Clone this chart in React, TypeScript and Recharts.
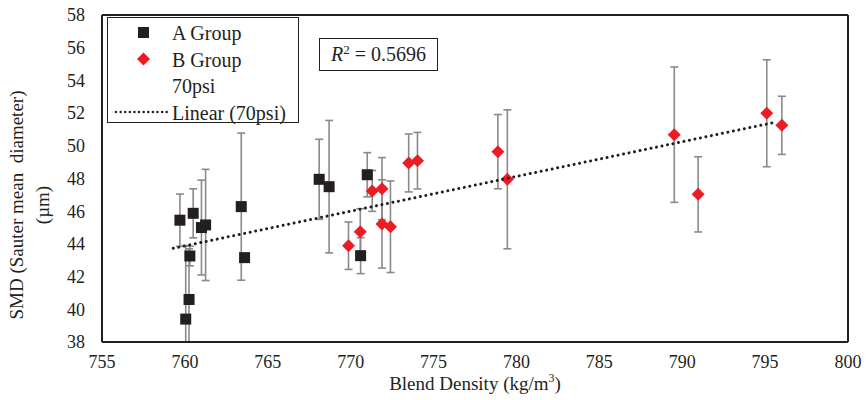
import React from 'react';
import {
  ScatterChart, Scatter, XAxis, YAxis, ErrorBar, ReferenceLine,
} from 'recharts';

// A Group (black squares)
const aDensity = [759.7, 760.5, 760.3, 760.25, 760.05, 761.0, 761.25, 763.4, 763.6, 768.1, 768.7, 771.0, 770.6];
const aSmd = [45.45, 45.87, 43.26, 40.6, 39.4, 45.0, 45.16, 46.28, 43.16, 47.95, 47.5, 48.23, 43.28];
// [below, above] as visible in the plot (bars running off the bottom are cut at the axis)
const aErr = [[1.6, 1.6], [1.5, 1.5], [0.6, 0.6], [2.6, 3.1], [1.4, 4.5], [2.9, 2.9], [3.4, 3.4], [4.5, 4.5], [0, 0], [2.45, 2.45], [4.05, 4.05], [1.35, 1.35], [1.1, 1.1]];

// B Group (red diamonds)
const bDensity = [769.87, 770.58, 771.3, 771.89, 771.89, 772.4, 773.5, 774.03, 778.88, 779.45, 789.52, 790.96, 795.1, 796.01];
const bSmd = [43.89, 44.75, 47.24, 47.38, 45.22, 45.05, 48.95, 49.09, 49.64, 47.95, 50.68, 47.03, 51.99, 51.25];
const bErr = [1.45, 1.4, 1.25, 1.9, 2.7, 2.8, 1.77, 1.73, 2.27, 4.25, 4.14, 2.3, 3.27, 1.78];

// Linear (70psi) trend endpoints
const trendDensity = [759.3, 795.7];
const trendSmd = [43.73, 51.46];

const xTicks = [755, 760, 765, 770, 775, 780, 785, 790, 795, 800];
const yTicks = [38, 40, 42, 44, 46, 48, 50, 52, 54, 56, 58];

const rSquared = '0.5696';

const toRows = (xs: number[], ys: number[], errs?: any[]) =>
  xs.map((x, i) => ({ x, y: ys[i], err: errs ? errs[i] : 0 }));

const aData = toRows(aDensity, aSmd, aErr);
const bData = toRows(bDensity, bSmd, bErr);
const trendData = toRows(trendDensity, trendSmd);

const INK = '#231f20';
const RED = '#ed1c24';
const FONT = '"Liberation Serif", "Times New Roman", serif';

const Square = (props: any) => {
  const { cx, cy } = props;
  return <rect x={cx - 5.5} y={cy - 5.5} width={11} height={11} fill={INK} />;
};

const Diamond = (props: any) => {
  const { cx, cy } = props;
  const r = 6.5;
  return <path d={`M${cx},${cy - r}L${cx + r},${cy}L${cx},${cy + r}L${cx - r},${cy}Z`} fill={RED} />;
};

const NoDot = () => <g />;

const tickStyle = { fill: INK, fontSize: 18, fontFamily: FONT };

export default function App() {
  return (
    <div style={{ position: 'absolute', left: 0, top: 0, width: 866, height: 400, fontFamily: FONT, color: INK, background: '#fff' }}>
      <ScatterChart width={866} height={400} margin={{ top: 15, right: 18, bottom: 28, left: 0 }}>
        <XAxis
          type="number"
          dataKey="x"
          domain={[755, 800]}
          ticks={xTicks}
          allowDataOverflow
          tickLine={false}
          tickMargin={7}
          axisLine={{ stroke: INK, strokeWidth: 2 }}
          tick={tickStyle}
        />
        <YAxis
          type="number"
          dataKey="y"
          domain={[38, 58]}
          ticks={yTicks}
          allowDataOverflow
          width={102}
          tickLine={false}
          tickMargin={11}
          axisLine={{ stroke: INK, strokeWidth: 2 }}
          tick={tickStyle}
        />
        <ReferenceLine y={58} stroke={INK} strokeWidth={2} />
        <ReferenceLine x={800} stroke={INK} strokeWidth={2} />
        <Scatter data={aData} shape={Square} isAnimationActive={false}>
          <ErrorBar dataKey="err" direction="y" width={4} stroke="#8a8a8a" strokeWidth={1.6} />
        </Scatter>
        <Scatter data={bData} shape={Diamond} isAnimationActive={false}>
          <ErrorBar dataKey="err" direction="y" width={4} stroke="#8a8a8a" strokeWidth={1.6} />
        </Scatter>
        <Scatter
          data={trendData}
          shape={NoDot}
          line={{ stroke: INK, strokeWidth: 3, strokeDasharray: '0.01 5.6', strokeLinecap: 'round' }}
          isAnimationActive={false}
        />
      </ScatterChart>

      {/* legend */}
      <div style={{ position: 'absolute', left: 107, top: 17, width: 192, height: 106, border: `1.5px solid ${INK}`, fontSize: 20, boxSizing: 'border-box', background: '#fff' }}>
        <svg width={60} height={106} style={{ position: 'absolute', left: 0, top: 0 }}>
          <rect x={30} y={9} width={11} height={11} fill={INK} />
          <path d="M35.5,34.5L42,41L35.5,47.5L29,41Z" fill={RED} />
          <line x1={8} y1={94} x2={62} y2={94} stroke={INK} strokeWidth={2.5} strokeDasharray="0.01 4.6" strokeLinecap="round" />
        </svg>
        <div style={{ position: 'absolute', left: 64, top: 2, lineHeight: '26.5px', whiteSpace: 'nowrap' }}>
          <div>A Group</div>
          <div>B Group</div>
          <div>70psi</div>
          <div>Linear (70psi)</div>
        </div>
      </div>

      {/* R squared box */}
      <div style={{ position: 'absolute', left: 319, top: 38, width: 119, height: 33, border: `1.5px solid ${INK}`, boxSizing: 'border-box', fontSize: 20, lineHeight: '30px', textAlign: 'center', whiteSpace: 'nowrap', background: '#fff' }}>
        <i>R</i><span style={{ fontSize: 13, verticalAlign: 'top', lineHeight: '22px' }}>2</span> = {rSquared}
      </div>

      {/* y axis title */}
      <div style={{ position: 'absolute', left: 30, top: 205, transform: 'translate(-50%, -50%) rotate(-90deg)', fontSize: 19, lineHeight: '26px', textAlign: 'center', whiteSpace: 'pre' }}>
        <div>SMD (Sauter mean  diameter)</div>
        <div>(µm)</div>
      </div>

      {/* x axis title */}
      <div style={{ position: 'absolute', left: 475, top: 383, transform: 'translate(-50%, -50%)', fontSize: 19, whiteSpace: 'nowrap' }}>
        Blend Density (kg/m<sup style={{ fontSize: 12 }}>3</sup>)
      </div>
    </div>
  );
}
